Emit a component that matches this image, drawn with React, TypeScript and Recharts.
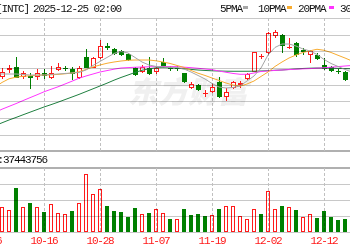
import React from 'react';
import { ComposedChart, Bar, Line, XAxis, YAxis } from 'recharts';

// trading days; the first two lie left of the visible area (only their MA values show)
const dates = [
  '10-06', '10-07', '10-08', '10-09', '10-10', '10-13', '10-14', '10-15', '10-16', '10-17',
  '10-20', '10-21', '10-22', '10-23', '10-24', '10-27', '10-28', '10-29', '10-30', '10-31',
  '11-03', '11-04', '11-05', '11-06', '11-07', '11-10', '11-11', '11-12', '11-13', '11-14',
  '11-17', '11-18', '11-19', '11-20', '11-21', '11-24', '11-25', '11-26', '11-28', '12-01',
  '12-02', '12-03', '12-04', '12-05', '12-08', '12-09', '12-10', '12-11', '12-12', '12-15',
  '12-16', '12-17', '12-18',
];
const tickDates = ['10-06', '10-16', '10-28', '11-07', '11-19', '12-02', '12-12'];

const opens = [null, null,
  37.20, 38.20, 38.65, 37.11, 37.30, 37.11, 37.71, 37.05, 38.20, 38.55,
  38.35, 37.05, 40.20, 38.55, 39.96, 41.80, 41.28, 40.98, 40.60, 38.55,
  37.86, 38.55, 37.95, 39.45, 38.55, 38.50, 37.71, 35.55, 35.95, 34.60,
  34.95, 36.45, 34.20, 35.55, 35.95, 36.85, 37.95, 40.11, 40.71, 43.35,
  43.45, 41.52, 42.21, 41.16, 40.45, 40.45, 38.95, 38.70, 38.05, 37.95, 36.70];
const highs = [null, null,
  38.50, 38.95, 40.11, 38.05, 37.80, 38.31, 38.31, 38.85, 39.21, 38.85,
  38.70, 38.80, 41.35, 40.20, 42.70, 42.21, 41.43, 41.20, 40.75, 38.70,
  38.95, 40.20, 38.70, 39.96, 38.85, 38.80, 37.80, 36.45, 36.06, 35.20,
  36.06, 37.20, 35.46, 36.55, 36.55, 37.80, 40.95, 40.56, 43.86, 44.20,
  43.56, 43.05, 42.45, 41.46, 41.20, 40.71, 40.05, 38.85, 38.35, 38.05, 37.75];
const lows = [null, null,
  36.85, 37.71, 36.93, 36.85, 35.35, 36.70, 36.85, 36.85, 38.05, 38.05,
  36.70, 36.85, 38.46, 38.43, 39.85, 41.20, 40.38, 40.23, 39.55, 37.30,
  37.71, 37.45, 37.56, 38.46, 38.05, 38.01, 36.21, 35.35, 35.05, 34.20,
  34.71, 34.05, 33.55, 35.35, 35.46, 36.70, 37.86, 39.85, 40.56, 42.96,
  40.71, 41.35, 40.20, 40.45, 39.21, 39.70, 38.16, 37.86, 37.60, 36.55, 36.55];
const closes = [null, null,
  37.95, 38.46, 36.96, 37.80, 37.05, 37.71, 37.35, 37.71, 38.70, 38.35,
  37.56, 38.55, 38.55, 39.96, 41.85, 41.55, 40.56, 40.45, 39.66, 37.45,
  38.70, 37.56, 38.55, 38.70, 38.35, 38.31, 36.45, 36.06, 35.20, 34.80,
  35.70, 34.20, 34.95, 36.36, 36.30, 37.56, 40.86, 40.30, 43.71, 43.95,
  41.85, 41.58, 40.45, 40.86, 41.05, 39.85, 38.35, 38.05, 37.86, 36.70, 37.45];

const ma5 = [37.60, 37.60,
  37.60, 37.60, 37.60, 37.53, 37.45, 37.45, 37.45, 37.53, 37.60, 37.68,
  37.75, 37.83, 38.20, 38.88, 39.48, 40.08, 40.68, 40.98, 40.75, 40.08,
  39.40, 38.95, 38.73, 38.65, 38.61, 38.58, 38.35, 37.90, 37.38, 36.85,
  36.18, 35.65, 35.50, 35.58, 35.80, 36.55, 37.30, 38.50, 40.45, 41.58,
  42.10, 42.10, 41.80, 41.35, 41.05, 40.53, 39.78, 39.18, 38.73, 38.28, 37.90];
const ma10 = [34.90, 35.65,
  36.33, 36.88, 37.12, 37.26, 37.33, 37.42, 37.45, 37.48, 37.54, 37.63,
  37.75, 37.93, 38.28, 38.65, 38.95, 39.21, 39.40, 39.55, 39.66, 39.70,
  39.70, 39.70, 39.58, 39.40, 39.18, 38.88, 38.58, 38.13, 37.72, 37.38,
  37.00, 36.63, 36.25, 35.95, 35.77, 36.10, 36.55, 37.23, 37.90, 38.73,
  39.40, 40.00, 40.45, 40.83, 41.08, 41.31, 41.16, 40.83, 40.41, 40.00, 39.55];
const ma20 = [31.30, 31.83,
  32.32, 32.74, 33.16, 33.61, 34.05, 34.48, 34.93, 35.31, 35.68, 36.10,
  36.52, 36.96, 37.30, 37.60, 37.90, 38.11, 38.32, 38.50, 38.56, 38.61,
  38.65, 38.68, 38.71, 38.73, 38.71, 38.70, 38.62, 38.55, 38.46, 38.35,
  38.25, 38.05, 37.86, 37.68, 37.56, 37.56, 37.75, 37.98, 38.05, 38.14,
  38.20, 38.26, 38.32, 38.37, 38.41, 38.47, 38.53, 38.62, 38.71, 38.80, 38.88];
const ma30 = [29.43, 29.86,
  30.28, 30.70, 31.08, 31.48, 31.87, 32.26, 32.65, 33.00, 33.37, 33.76,
  34.15, 34.54, 34.96, 35.38, 35.80, 36.22, 36.67, 37.08, 37.45, 37.83,
  38.16, 38.38, 38.53, 38.56, 38.53, 38.47, 38.38, 38.29, 38.20, 38.13,
  38.08, 38.05, 38.02, 38.01, 38.01, 38.01, 38.02, 38.05, 38.10, 38.16,
  38.20, 38.28, 38.35, 38.43, 38.47, 38.50, 38.50, 38.47, 38.44, 38.41, 38.38];

// volume in millions of shares, and whether the day counts as up (red) or down (green)
const volumes = [null, null,
  78, 68, 138, 79, 90, 77, 62, 88, 60, 55,
  65, 92, 182, 120, 135, 82, 65, 62, 48, 76,
  56, 58, 73, 58, 42, 42, 73, 54, 57, 49,
  52, 73, 80, 80, 49, 42, 73, 56, 127, 71,
  82, 79, 70, 47, 57, 45, 67, 47, 38, 42, 54];
const volUp = [null, null,
  true, true, false, true, false, true, false, true, true, true,
  false, true, true, true, true, false, false, false, false, false,
  true, false, true, true, false, true, false, false, false, false,
  true, false, true, true, true, true, true, false, true, true,
  false, true, false, true, true, false, false, false, false, false, true];

const priceGrid = [46, 43.5, 41, 38.5, 36, 33.5, 31, 28.5];
const volGrid = [50, 100, 150];

// panel geometry (page pixels) and the axis domains that go with it
const PLOT_TOP = 18;
const PLOT_BOTTOM = 232;
const PRICE_MAX = 46;
const PRICE_PER_PX = 0.15;
const PRICE_MIN = PRICE_MAX - (PLOT_BOTTOM - PLOT_TOP) * PRICE_PER_PX;
const VOL_PER_PX = 200 / 64;
const VOL_MAX = (PLOT_BOTTOM - PLOT_TOP) * VOL_PER_PX;
const BAND = 7;
const CHART_LEFT = -16;

const priceY = (v: number) => PLOT_TOP + (PRICE_MAX - v) / PRICE_PER_PX;
const volY = (v: number) => PLOT_BOTTOM - v / VOL_PER_PX;
const bandX = (d: string) => CHART_LEFT + 0.5 + (dates.indexOf(d) + 0.5) * BAND;
const crisp = (v: number) => Math.round(v) + 0.5;

const RED = '#ff1a1a';
const GREEN = '#008000';
const GRID = '#c8c8c8';
const BORDER = '#b0b0b0';
const FONT = "'Liberation Mono', monospace";

const rows = dates.map((d, i) => ({
  date: d,
  open: opens[i],
  high: highs[i],
  low: lows[i],
  close: closes[i],
  ma5: ma5[i],
  ma10: ma10[i],
  ma20: ma20[i],
  ma30: ma30[i],
  vol: volumes[i],
  up: volUp[i],
}));

const Candle = (props: any) => {
  const { x, y, width, height, payload } = props;
  if (payload.open == null) return null;
  const { open, high, low, close } = payload;
  const top = Math.min(y, y + height);
  const bottom = Math.max(y, y + height);
  const k = high === low ? 0 : (bottom - top) / (high - low);
  const toY = (v: number) => top + (high - v) * k;
  const cx = Math.round(x + width / 2);
  const bt = Math.round(toY(Math.max(open, close)));
  const bb = Math.round(toY(Math.min(open, close)));
  const yh = Math.round(top);
  const yl = Math.round(bottom);
  const color = close >= open ? RED : GREEN;
  return (
    <g>
      <line x1={cx + 0.5} x2={cx + 0.5} y1={yh} y2={yl} stroke={color} strokeWidth={1} />
      {bb - bt < 2 ? (
        <line x1={cx - 2} x2={cx + 3} y1={bt + 0.5} y2={bt + 0.5} stroke={color} strokeWidth={1} />
      ) : close >= open ? (
        <rect x={cx - 1.5} y={bt + 0.5} width={4} height={bb - bt - 1} fill="#fff" stroke={color} strokeWidth={1} />
      ) : (
        <rect x={cx - 2} y={bt} width={5} height={bb - bt} fill={color} />
      )}
    </g>
  );
};

const VolBar = (props: any) => {
  const { x, y, width, height, payload } = props;
  if (payload.vol == null) return null;
  const cx = Math.round(x + width / 2);
  const top = Math.round(Math.min(y, y + height));
  const bottom = Math.round(Math.max(y, y + height));
  if (payload.up) {
    return <rect x={cx - 1.5} y={top + 0.5} width={3} height={bottom - top - 1} fill="#fff" stroke={RED} strokeWidth={1} />;
  }
  return <rect x={cx - 2} y={top} width={4} height={bottom - top} fill={GREEN} />;
};

const DateTick = ({ x, payload }: any) => (
  <text x={x} y={244} textAnchor="middle" fill={RED} fontSize={11} fontFamily={FONT} letterSpacing={-1.2}>
    {payload.value}
  </text>
);

export default function App() {
  return (
    <div style={{ position: 'fixed', left: 0, top: 0, width: 350, height: 250, overflow: 'hidden', background: '#fff' }}>
      <svg width={350} height={250} style={{ position: 'absolute', left: 0, top: 0 }}>
        <text x={128} y={103} fontSize={30} fontWeight={900} fontStyle="italic" fill="#f0f0f0" fontFamily="'Noto Sans CJK SC', sans-serif">
          东方财富
        </text>
      </svg>
      <ComposedChart
        width={372}
        height={250}
        data={rows}
        margin={{ top: PLOT_TOP, right: 0.5, bottom: 0, left: 0.5 }}
        style={{ position: 'absolute', left: CHART_LEFT, top: 0 }}
      >
        <XAxis xAxisId="p" dataKey="date" hide />
        <XAxis
          xAxisId="v"
          dataKey="date"
          height={250 - PLOT_BOTTOM}
          axisLine={false}
          tickLine={false}
          ticks={tickDates}
          interval={0}
          tick={<DateTick />}
        />
        <YAxis yAxisId="p" hide domain={[PRICE_MIN, PRICE_MAX]} allowDataOverflow />
        <YAxis yAxisId="v" hide domain={[0, VOL_MAX]} allowDataOverflow />

        <Bar
          xAxisId="p"
          yAxisId="p"
          dataKey={(r: any) => (r.low == null ? null : [r.low, r.high])}
          barSize={BAND}
          shape={<Candle />}
          isAnimationActive={false}
        />
        <Bar xAxisId="v" yAxisId="v" dataKey="vol" barSize={BAND} shape={<VolBar />} isAnimationActive={false} />

        <Line xAxisId="p" yAxisId="p" dataKey="ma30" stroke="#1f8040" strokeWidth={1} dot={false} isAnimationActive={false} />
        <Line xAxisId="p" yAxisId="p" dataKey="ma20" stroke="#ff33ff" strokeWidth={1} dot={false} isAnimationActive={false} />
        <Line xAxisId="p" yAxisId="p" dataKey="ma10" stroke="#f8ac30" strokeWidth={1} dot={false} isAnimationActive={false} />
        <Line xAxisId="p" yAxisId="p" dataKey="ma5" stroke="#a6a6a6" strokeWidth={1} dot={false} isAnimationActive={false} />
      </ComposedChart>
      {/* grid, multiplied over the chart so it reads as lying beneath the marks */}
      <svg width={350} height={250} style={{ position: 'absolute', left: 0, top: 0, pointerEvents: 'none', mixBlendMode: 'multiply' }}>
        {priceGrid.map((v) => (
          <line key={'pg' + v} x1={0} x2={350} y1={crisp(priceY(v))} y2={crisp(priceY(v))} stroke={GRID} strokeWidth={1} />
        ))}
        {volGrid.map((v) => (
          <line key={'vg' + v} x1={0} x2={350} y1={crisp(volY(v))} y2={crisp(volY(v))} stroke={GRID} strokeWidth={1} />
        ))}
        <line x1={0} x2={350} y1={Math.round(priceY(26))} y2={Math.round(priceY(26))} stroke={BORDER} strokeWidth={2} />
        <line x1={0} x2={350} y1={Math.round(volY(200))} y2={Math.round(volY(200))} stroke={BORDER} strokeWidth={2} />
        <line x1={0} x2={350} y1={crisp(PLOT_BOTTOM)} y2={crisp(PLOT_BOTTOM)} stroke={GRID} strokeWidth={1} />
        {tickDates.map((d) => (
          <g key={'vx' + d} stroke="#c0c0c0" strokeWidth={1} strokeDasharray="3 2">
            <line x1={crisp(bandX(d))} x2={crisp(bandX(d))} y1={PLOT_TOP} y2={priceY(26)} />
            <line x1={crisp(bandX(d))} x2={crisp(bandX(d))} y1={volY(200)} y2={PLOT_BOTTOM} />
          </g>
        ))}
      </svg>
      <svg width={350} height={250} style={{ position: 'absolute', left: 0, top: 0, pointerEvents: 'none' }}>
        <g fontSize={11} fontFamily={FONT} letterSpacing={-1.1} fill="#111">
          <text x={-4} y={12}>[INTC]</text>
          <text x={33} y={12}>2025-12-25 02:00</text>
          <text x={220} y={12}>5PMA</text>
          <text x={258} y={12}>10PMA</text>
          <text x={298} y={12}>20PMA</text>
          <text x={340} y={12}>30PMA</text>
          <text x={47} y={163} textAnchor="end">VOLUME:37443756</text>
        </g>
        <rect x={243} y={6} width={5} height={3} fill="#a6a6a6" />
        <rect x={287} y={6} width={5} height={3} fill="#f8ac30" />
        <rect x={329} y={6} width={5} height={3} fill="#ff33ff" />
      </svg>
    </div>
  );
}
